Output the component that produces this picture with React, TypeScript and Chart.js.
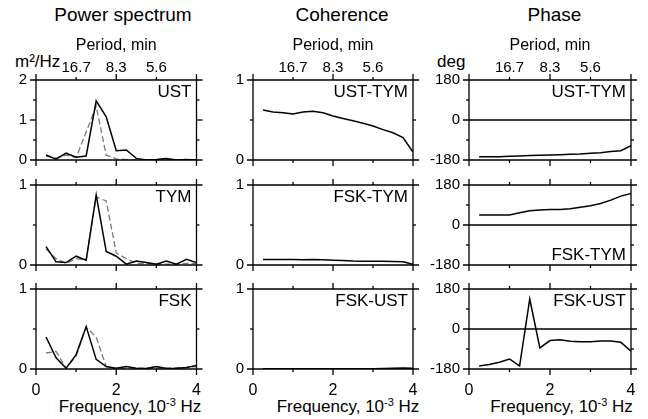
import React, { useEffect, useRef } from "react";
import { Chart, registerables } from "chart.js";

Chart.register(...registerables);

// ---------- data ----------
const FREQ = [0.25, 0.5, 0.75, 1, 1.25, 1.5, 1.75, 2, 2.25, 2.5, 2.75, 3, 3.25, 3.5, 3.75, 4];

const UST_POWER = [0.125, 0.02, 0.17, 0.07, 0.1, 1.48, 1.08, 0.23, 0.25, 0.04, 0.0, 0.01, 0.04, 0.0, 0.01, 0.0];
const UST_POWER_MODEL = [0.1, 0.05, 0.12, 0.06, 0.7, 1.35, 0.12, 0.03, 0.01, 0.01, 0.01, 0.01, 0.01, 0.01, 0.01, 0.01];

const TYM_POWER = [0.23, 0.04, 0.03, 0.11, 0.06, 0.875, 0.17, 0.11, 0.01, 0.05, 0.03, 0.01, 0.05, 0.01, 0.07, 0.03];
const TYM_POWER_MODEL = [0.2, 0.08, 0.02, 0.08, 0.06, 0.85, 0.8, 0.15, 0.08, 0.02, 0.02, 0.01, 0.01, 0.01, 0.02, 0.02];

const FSK_POWER = [0.4, 0.14, 0.01, 0.18, 0.53, 0.12, 0.03, 0.01, 0.03, 0.01, 0.005, 0.03, 0.005, 0.01, 0.02, 0.045];
const FSK_POWER_MODEL = [0.2, 0.22, 0.01, 0.16, 0.52, 0.4, 0.03, 0.0, 0.01, 0.01, 0.01, 0.01, 0.01, 0.015, 0.02, 0.03];

const COH_UST_TYM = [0.625, 0.6, 0.59, 0.575, 0.6, 0.61, 0.59, 0.55, 0.52, 0.49, 0.46, 0.425, 0.38, 0.34, 0.28, 0.1];
const COH_FSK_TYM = [0.07, 0.07, 0.07, 0.068, 0.065, 0.07, 0.065, 0.06, 0.055, 0.05, 0.048, 0.047, 0.047, 0.045, 0.04, 0.01];
const COH_FSK_UST = [0.003, 0.003, 0.003, 0.003, 0.003, 0.003, 0.003, 0.003, 0.003, 0.003, 0.003, 0.004, 0.005, 0.008, 0.012, 0.01];

const PH_UST_TYM = [-165, -165, -165, -163, -162, -160, -159, -157, -156, -154, -153, -150, -147, -142, -138, -115];
const PH_FSK_TYM = [45, 45, 45, 45, 55, 64, 67, 70, 70, 73, 80, 87, 97, 112, 130, 142];
const PH_FSK_UST = [-166, -160, -150, -135, -166, 135, -85, -52, -48, -55, -57, -57, -54, -54, -60, -100];

const X_MAJOR = [0, 2, 4];
const X_MINOR = [1, 3];
const PERIOD_FREQ = [1, 2, 3];
const PERIOD_LABELS = ["16.7", "8.3", "5.6"];

const POWER1_MAJOR = [0, 1, 2];
const POWER1_MINOR = [0.5, 1.5];
const UNIT_MAJOR = [0, 1];
const UNIT_MINOR = [0.5];
const PHASE_MAJOR = [-180, 0, 180];
const PHASE_MINOR = [-90, 90];

const COLUMN_TITLES = ["Power spectrum", "Coherence", "Phase"];

// ---------- layout ----------
const W = 648;
const H = 419;
const COL_LEFT = [36, 253, 469];
const COL_RIGHT = [196.5, 413, 631];
const ROW_TOP = [80, 185, 289];
const ROW_BOTTOM = [160, 265, 369];
const Y_W = [32, 45, 60];
const TOP_H = 50;
const BOT_H = 30;
const FONT = '"Liberation Sans", Arial, Helvetica, sans-serif';

type Series = { data: number[]; dashed?: boolean };
type Panel = {
  row: number;
  col: number;
  label: string;
  labelAtBottom?: boolean;
  yMin: number;
  yMax: number;
  yMajor: number[];
  yMinor: number[];
  zero?: boolean;
  series: Series[];
};

const PANELS: Panel[] = [
  { row: 0, col: 0, label: "UST", yMin: 0, yMax: 2, yMajor: POWER1_MAJOR, yMinor: POWER1_MINOR, series: [{ data: UST_POWER }, { data: UST_POWER_MODEL, dashed: true }] },
  { row: 1, col: 0, label: "TYM", yMin: 0, yMax: 1, yMajor: UNIT_MAJOR, yMinor: UNIT_MINOR, series: [{ data: TYM_POWER }, { data: TYM_POWER_MODEL, dashed: true }] },
  { row: 2, col: 0, label: "FSK", yMin: 0, yMax: 1, yMajor: UNIT_MAJOR, yMinor: UNIT_MINOR, series: [{ data: FSK_POWER }, { data: FSK_POWER_MODEL, dashed: true }] },
  { row: 0, col: 1, label: "UST-TYM", yMin: 0, yMax: 1, yMajor: UNIT_MAJOR, yMinor: UNIT_MINOR, series: [{ data: COH_UST_TYM }] },
  { row: 1, col: 1, label: "FSK-TYM", yMin: 0, yMax: 1, yMajor: UNIT_MAJOR, yMinor: UNIT_MINOR, series: [{ data: COH_FSK_TYM }] },
  { row: 2, col: 1, label: "FSK-UST", yMin: 0, yMax: 1, yMajor: UNIT_MAJOR, yMinor: UNIT_MINOR, series: [{ data: COH_FSK_UST }] },
  { row: 0, col: 2, label: "UST-TYM", yMin: -180, yMax: 180, yMajor: PHASE_MAJOR, yMinor: PHASE_MINOR, zero: true, series: [{ data: PH_UST_TYM }] },
  { row: 1, col: 2, label: "FSK-TYM", labelAtBottom: true, yMin: -180, yMax: 180, yMajor: PHASE_MAJOR, yMinor: PHASE_MINOR, zero: true, series: [{ data: PH_FSK_TYM }] },
  { row: 2, col: 2, label: "FSK-UST", yMin: -180, yMax: 180, yMajor: PHASE_MAJOR, yMinor: PHASE_MINOR, zero: true, series: [{ data: PH_FSK_UST }] },
];

const framePlugin = {
  id: "frame",
  afterDatasetsDraw(chart: any, _args: any, opts: any) {
    const { ctx, chartArea } = chart;
    const { left, right, top, bottom } = chartArea;
    const xs = chart.scales.x;
    const ys = chart.scales.y;
    const E = 6;
    const M = 6;
    const m = 3;
    ctx.save();
    ctx.strokeStyle = "#000";
    ctx.lineWidth = 1.3;
    const line = (x1: number, y1: number, x2: number, y2: number) => {
      ctx.beginPath();
      ctx.moveTo(x1, y1);
      ctx.lineTo(x2, y2);
      ctx.stroke();
    };
    line(left - E, top, right + E, top);
    line(left - E, bottom, right + E, bottom);
    line(left, top - E, left, bottom + E);
    line(right, top - E, right, bottom + E);
    for (const v of opts.yMajor as number[]) {
      const py = ys.getPixelForValue(v);
      if (Math.abs(py - top) < 0.5 || Math.abs(py - bottom) < 0.5) continue;
      if (opts.zero && v === 0) line(left - M, py, right + M, py);
      else {
        line(left - M, py, left, py);
        line(right, py, right + M, py);
      }
    }
    for (const v of opts.yMinor as number[]) {
      const py = ys.getPixelForValue(v);
      line(left - m, py, left, py);
      line(right, py, right + m, py);
    }
    for (const v of X_MAJOR) {
      const px = xs.getPixelForValue(v);
      if (Math.abs(px - left) < 0.5 || Math.abs(px - right) < 0.5) continue;
      line(px, bottom, px, bottom + M);
      line(px, top - M, px, top);
    }
    for (const v of X_MINOR) {
      const px = xs.getPixelForValue(v);
      line(px, bottom, px, bottom + m);
      line(px, top - m, px, top);
    }
    ctx.font = `17px ${FONT}`;
    ctx.fillStyle = "#000";
    ctx.textAlign = "right";
    ctx.textBaseline = "alphabetic";
    ctx.fillText(opts.label, right - 5, opts.labelAtBottom ? bottom - 5 : top + 17);
    ctx.restore();
  },
};

const NO_GRID = { display: false, drawTicks: false };

function makeConfig(p: Panel): any {
  const xTop = p.row === 0;
  const xBottom = p.row === 2;
  const yw = Y_W[p.col];
  return {
    type: "line",
    data: {
      datasets: p.series.map((s) => ({
        data: FREQ.map((f, i) => ({ x: f, y: s.data[i] })),
        borderColor: s.dashed ? "#7a7a7a" : "#000",
        borderWidth: s.dashed ? 1.3 : 1.5,
        borderDash: s.dashed ? [6, 3] : [],
        pointRadius: 0,
        fill: false,
        tension: 0,
        xAxisID: "x",
        yAxisID: "y",
      })),
    },
    options: {
      responsive: false,
      maintainAspectRatio: false,
      animation: false,
      devicePixelRatio: 1,
      layout: {
        padding: {
          left: COL_LEFT[p.col] - yw,
          right: W - COL_RIGHT[p.col],
          top: xTop ? ROW_TOP[p.row] - TOP_H : ROW_TOP[p.row],
          bottom: H - ROW_BOTTOM[p.row] - (xBottom ? BOT_H : 0),
        },
      },
      plugins: {
        legend: { display: false },
        tooltip: { enabled: false },
        frame: { yMajor: p.yMajor, yMinor: p.yMinor, zero: !!p.zero, label: p.label, labelAtBottom: !!p.labelAtBottom },
      },
      scales: {
        x: {
          type: "linear",
          position: "bottom",
          display: xBottom,
          min: 0,
          max: 4,
          grid: NO_GRID,
          border: { display: false },
          afterBuildTicks: (s: any) => {
            s.ticks = X_MAJOR.map((v) => ({ value: v }));
          },
          ticks: {
            padding: 12,
            color: "#000",
            font: { size: 16, family: FONT },
            maxRotation: 0,
            autoSkip: false,
          },
          afterFit: (s: any) => {
            s.height = xBottom ? BOT_H : 0;
          },
        },
        xTop: {
          type: "linear",
          position: "top",
          display: xTop,
          min: 0,
          max: 4,
          grid: NO_GRID,
          border: { display: false },
          afterBuildTicks: (s: any) => {
            s.ticks = PERIOD_FREQ.map((v) => ({ value: v }));
          },
          ticks: {
            padding: 3,
            color: "#000",
            font: { size: 15, family: FONT },
            maxRotation: 0,
            autoSkip: false,
            callback: (_v: any, i: number) => PERIOD_LABELS[i],
          },
          title: {
            display: true,
            text: "Period, min",
            color: "#000",
            font: { size: 16, family: FONT },
            padding: { top: 6, bottom: 0 },
          },
          afterFit: (s: any) => {
            s.height = xTop ? TOP_H : 0;
          },
        },
        y: {
          type: "linear",
          position: "left",
          min: p.yMin,
          max: p.yMax,
          grid: NO_GRID,
          border: { display: false },
          afterBuildTicks: (s: any) => {
            s.ticks = p.yMajor.map((v) => ({ value: v }));
          },
          ticks: {
            padding: 9,
            color: "#000",
            font: { size: 15, family: FONT },
            autoSkip: false,
          },
          afterFit: (s: any) => {
            s.width = yw;
          },
        },
      },
    },
    plugins: [framePlugin],
  };
}

function PanelCanvas({ panel }: { panel: Panel }) {
  const ref = useRef<HTMLCanvasElement | null>(null);
  useEffect(() => {
    if (!ref.current) return;
    const chart = new Chart(ref.current, makeConfig(panel));
    return () => chart.destroy();
  }, [panel]);
  return (
    <canvas
      ref={ref}
      width={W}
      height={H}
      style={{ position: "absolute", left: 0, top: 0, width: W, height: H }}
    />
  );
}

const TITLE_CENTERS = [123, 342, 554.5];
const XTITLE_CENTERS = [130, 348, 561.5];

function Text({ cx, left, top, size, children }: any) {
  const style: any = {
    position: "absolute",
    top,
    fontSize: size,
    lineHeight: 1,
    whiteSpace: "nowrap",
    color: "#000",
  };
  if (cx !== undefined) {
    style.left = cx - 150;
    style.width = 300;
    style.textAlign = "center";
  } else {
    style.left = left;
  }
  return <div style={style}>{children}</div>;
}

export default function App() {
  return (
    <div
      style={{
        position: "absolute",
        left: 0,
        top: 0,
        width: W,
        height: H,
        background: "#fff",
        fontFamily: FONT,
        overflow: "hidden",
      }}
    >
      {COLUMN_TITLES.map((t, i) => (
        <Text key={t} cx={TITLE_CENTERS[i]} top={5} size={19}>
          {t}
        </Text>
      ))}
      <Text left={15} top={52.5} size={17}>
        m²/Hz
      </Text>
      <Text left={437} top={52.5} size={17}>
        deg
      </Text>
      {XTITLE_CENTERS.map((c, i) => (
        <Text key={i} cx={c} top={398} size={17}>
          Frequency, 10<span style={{ fontSize: 11, position: "relative", top: -6 }}>-3</span> Hz
        </Text>
      ))}
      {PANELS.map((p, i) => (
        <PanelCanvas key={i} panel={p} />
      ))}
    </div>
  );
}
